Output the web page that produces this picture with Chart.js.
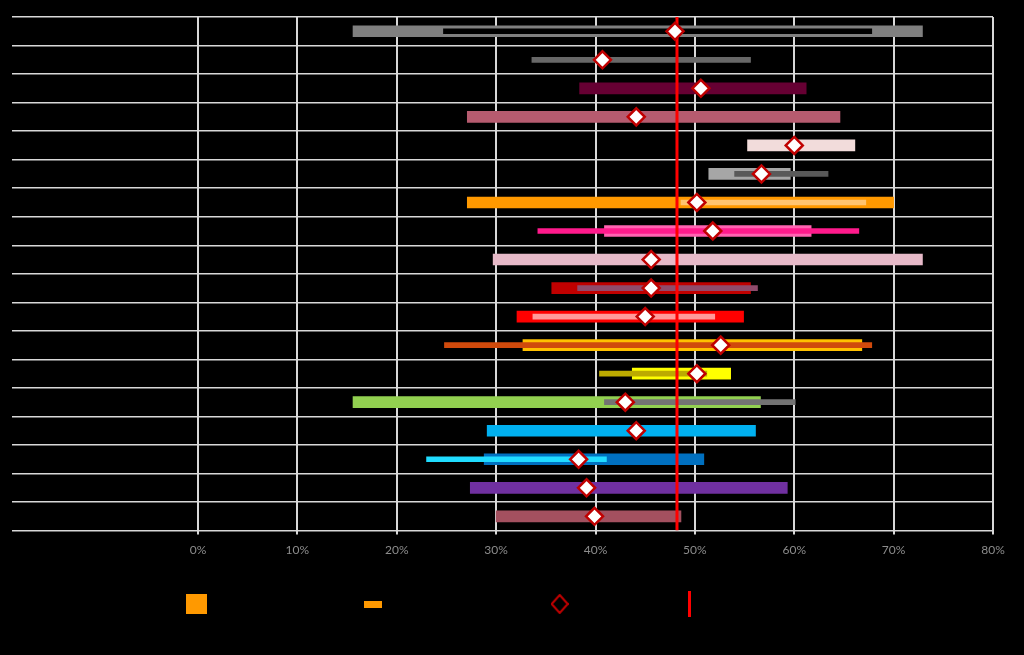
<!DOCTYPE html>
<html>
<head>
<meta charset="utf-8">
<script src="https://cdn.jsdelivr.net/npm/chart.js@4"></script>
<style>
  html, body { margin: 0; padding: 0; background: #000; }
  #wrap { width: 1024px; height: 655px; }
</style>
</head>
<body>
<div id="wrap"><canvas id="rangeChart"></canvas></div>
<script>
// categories (labels are black on black in the original)
const rows = ['Item 1', 'Item 2', 'Item 3', 'Item 4', 'Item 5', 'Item 6', 'Item 7', 'Item 8', 'Item 9',
              'Item 10', 'Item 11', 'Item 12', 'Item 13', 'Item 14', 'Item 15', 'Item 16', 'Item 17', 'Item 18'];

// wide bar: [from, to] in %
const wideRange = [[15.6, 72.9], null, [38.4, 61.2], [27.1, 64.6], [55.3, 66.1], [51.4, 59.6],
                   [27.1, 70.0], [40.9, 61.7], [29.7, 72.9], [35.6, 55.6], [32.1, 54.9], [32.7, 66.8],
                   [43.7, 53.6], [15.6, 56.6], [29.1, 56.1], [28.8, 50.9], [27.4, 59.3], [30.0, 48.6]];
const wideColors = ['#7f7f7f', '#000000', '#660033', '#b65b6f', '#f2dcdb', '#a6a6a6',
                    '#ff9900', '#ff63b1', '#e6b9c8', '#c00000', '#ff0000', '#ffc000',
                    '#ffff00', '#92d050', '#00b0f0', '#0070c0', '#7030a0', '#a3505f'];

// narrow bar: [from, to] in %
const narrowRange = [[24.7, 67.8], [33.6, 55.6], null, null, null, [54.0, 63.4],
                     [48.6, 67.2], [34.2, 66.5], null, [38.2, 56.3], [33.7, 52.0], [24.8, 67.8],
                     [40.4, 51.2], [40.9, 60.1], null, [23.0, 41.1], null, null];
const narrowColors = ['#000000', '#686868', '#000000', '#000000', '#000000', '#595959',
                      '#ffc470', '#ff1a8c', '#000000', '#8f4b6b', '#ff9999', '#d04a0c',
                      '#bcaa00', '#737373', '#000000', '#20dcff', '#000000', '#000000'];

// diamond marker values in %
const scores = [48.0, 40.7, 50.6, 44.1, 60.0, 56.7, 50.2, 51.8, 45.6,
                45.6, 45.0, 52.6, 50.2, 43.0, 44.1, 38.3, 39.1, 39.9];

// red reference line
const average = 48.2;

const xTicks = [0, 10, 20, 30, 40, 50, 60, 70, 80];

const legendNames = ['Range over all participants', 'Interquartile range (25-75%)', "Your team's score", 'Overall average score'];

// legend icons drawn as small canvases
function icon(w, h, draw) {
    const c = document.createElement('canvas');
    c.width = w;
    c.height = h;
    draw(c.getContext('2d'));
    return c;
}
const legendIcons = [
    icon(21, 20, g => { g.fillStyle = '#ff9900'; g.fillRect(0, 0, 21, 20); }),
    icon(18, 7, g => { g.fillStyle = '#ff9900'; g.fillRect(0, 0, 18, 7); }),
    icon(18, 20, g => {
        g.strokeStyle = '#c00000';
        g.lineWidth = 2;
        g.beginPath();
        g.moveTo(9, 1); g.lineTo(17, 10); g.lineTo(9, 19); g.lineTo(1, 10); g.closePath();
        g.stroke();
    }),
    icon(3, 26, g => { g.fillStyle = '#ff0000'; g.fillRect(0, 0, 3, 26); })
];

const ctx = document.getElementById('rangeChart').getContext('2d');

new Chart(ctx, {
    type: 'bar',
    data: {
        labels: rows,
        datasets: [
            {
                type: 'line',
                label: legendNames[2],
                data: scores,
                yAxisID: 'y',
                showLine: false,
                pointStyle: 'rectRot',
                pointRadius: 8.5,
                pointBackgroundColor: '#ffffff',
                pointBorderColor: '#c00000',
                pointBorderWidth: 2.5,
                order: 0
            },
            {
                type: 'line',
                label: legendNames[3],
                indexAxis: 'x',
                data: [{ x: average, y: 0 }, { x: average, y: 1 }],
                yAxisID: 'y2',
                borderColor: '#ff0000',
                borderWidth: 3,
                pointRadius: 0,
                order: 1
            },
            {
                label: legendNames[1],
                data: narrowRange,
                backgroundColor: narrowColors,
                barThickness: 5,
                grouped: false,
                order: 2
            },
            {
                label: legendNames[0],
                data: wideRange,
                backgroundColor: wideColors,
                barThickness: 11,
                grouped: false,
                order: 3
            }
        ]
    },
    options: {
        indexAxis: 'y',
        responsive: true,
        maintainAspectRatio: false,
        animation: false,
        devicePixelRatio: 1,
        layout: { padding: { left: 12, right: 31, top: 17, bottom: 35 } },
        scales: {
            x: {
                min: 0,
                max: 80,
                afterBuildTicks: scale => { scale.ticks = xTicks.map(v => ({ value: v })); },
                afterFit: scale => { scale.height += 23; },
                grid: { color: '#d9d9d9', lineWidth: 2, tickLength: 4 },
                border: { display: false },
                ticks: {
                    color: '#8c8c8c',
                    font: { family: 'Lato', size: 12 },
                    padding: 8,
                    callback: v => v + '%'
                }
            },
            y: {
                offset: true,
                grid: { offset: true, color: '#d9d9d9', lineWidth: 1.5, tickLength: 186 },
                border: { display: false },
                ticks: { color: '#000000', font: { family: 'Lato', size: 12 } },
                afterFit: scale => { scale.width = 186; }
            },
            y2: { type: 'linear', display: false, offset: false, grace: 0, min: 0, max: 1 }
        },
        plugins: {
            tooltip: { enabled: false },
            legend: {
                position: 'bottom',
                labels: {
                    usePointStyle: true,
                    pointStyleWidth: 22,
                    padding: 10,
                    color: '#000000',
                    font: { family: 'Lato', size: 12 },
                    generateLabels: () => legendNames.map((name, i) => ({
                        text: name,
                        fontColor: '#000000',
                        pointStyle: legendIcons[i],
                        fillStyle: 'transparent',
                        strokeStyle: 'transparent',
                        lineWidth: 0,
                        datasetIndex: i
                    }))
                }
            }
        }
    }
});
</script>
</body>
</html>
